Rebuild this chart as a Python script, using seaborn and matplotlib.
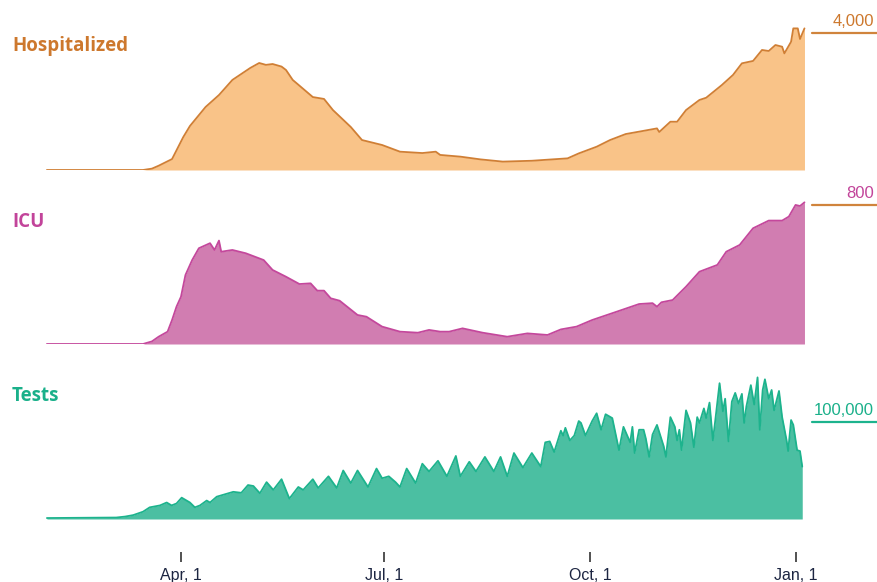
import matplotlib
matplotlib.use("Agg")
import matplotlib.pyplot as plt
import seaborn as sns
import pandas as pd

# days counted from 2020-02-01
hosp_day = [0, 43, 47, 50, 56, 61, 64, 71, 77, 83, 91, 95, 98, 101, 105, 107, 110, 119, 124, 128, 136, 141,
            150, 158, 168, 174, 176, 185, 194, 204, 217, 233, 238, 246, 252, 259, 265, 273, 274, 279, 282,
            286, 292, 295, 302, 307, 311, 316, 320, 323, 326, 329, 330, 333, 334, 336, 337, 339]
hosp_val = [0, 0, 40, 125, 320, 960, 1285, 1840, 2190, 2630, 2980, 3125, 3070, 3095, 3020, 2920, 2630, 2130,
            2075, 1750, 1255, 875, 730, 535, 495, 535, 440, 390, 310, 245, 270, 340, 485, 680, 875, 1050,
            1120, 1215, 1110, 1410, 1410, 1750, 2045, 2110, 2480, 2775, 3115, 3185, 3505, 3475, 3650, 3600,
            3405, 3745, 4135, 4135, 3825, 4135]

icu_day = [0, 43, 47, 50, 54, 56, 58, 60, 62, 65, 68, 73, 75, 77, 78, 83, 89, 97, 101, 107, 113, 118, 121,
           124, 127, 131, 139, 143, 150, 158, 166, 171, 176, 180, 186, 195, 206, 215, 224, 230, 237, 244,
           255, 265, 271, 273, 275, 280, 286, 292, 300, 304, 310, 316, 323, 329, 332, 335, 337, 339]
icu_val = [0, 0, 15, 42, 71, 138, 215, 272, 397, 483, 551, 580, 541, 595, 531, 541, 522, 483, 426, 387, 345,
           349, 307, 307, 263, 249, 167, 157, 100, 71, 65, 81, 71, 71, 90, 65, 42, 61, 52, 84, 100, 138,
           186, 230, 235, 215, 240, 253, 330, 416, 455, 531, 570, 666, 710, 710, 733, 800, 794, 815]

tests_day = [0, 31, 35, 38.6, 43, 46, 50.6, 53.6, 55.8, 58, 60.3, 64, 66.2, 68.5, 71.5, 73, 76, 79, 83.4,
             87, 90, 92.4, 95.3, 98.3, 101.3, 105, 108.5, 112.5, 114.7, 119, 121.4, 126, 129.7, 132.6,
             136, 139, 143.7, 147.5, 150, 153, 156, 158, 161, 165, 168, 171, 175, 179, 183, 185, 189, 192,
             196, 200, 203, 206, 209, 213, 217, 221, 223, 225, 227, 230, 231, 232, 234, 236, 238, 239, 241,
             244, 246, 248, 250, 253, 256, 258, 261, 262, 263, 265, 267, 268, 269.5, 271, 273, 276, 277,
             279, 281, 282, 283, 284, 286, 288, 289.5, 291, 292, 294, 295, 296.5, 298, 299, 301, 302.5,
             303.5, 305, 306.5, 308, 309.5, 311, 312, 313, 315, 316.5, 318, 319, 320.3, 321.3, 323, 324.3,
             325.4, 327.6, 329, 331, 331.7, 333, 334, 335.7, 337, 338]
tests_k = [1, 1.5, 2.5, 4, 7.5, 12, 14, 17, 14, 16, 22, 17, 12, 14, 19, 17, 23, 25, 28,
           27, 35, 34, 26.5, 38, 30, 41, 21, 33, 30, 41, 32, 44, 32, 50,
           37, 50, 33, 52, 42, 44, 38, 33, 52, 37, 57, 49, 60, 44, 65, 44, 59, 49,
           64, 49, 64, 44, 68, 53, 68, 54, 79, 80, 69, 91, 86, 94, 81, 86, 101, 99, 86,
           101, 109, 92, 108, 104, 71, 95, 79, 95, 68, 92, 92, 83, 64, 87, 97, 75, 64,
           105, 95, 81, 92, 71, 112, 99, 74, 105, 99, 114, 104, 120, 81, 100, 140, 111,
           124, 80, 121, 130, 119, 129, 99, 116, 138, 118, 146, 92, 133, 144, 124, 133,
           112, 132, 105, 81, 70, 102, 97, 71, 70, 54]

tick_dates = ['2020-04-01', '2020-07-01', '2020-10-01', '2021-01-01']
tick_labels = ['Apr, 1', 'Jul, 1', 'Oct, 1', 'Jan, 1']

start = pd.Timestamp('2020-02-01')


def to_dates(days):
    return start + pd.to_timedelta(pd.Series(days, dtype=float), unit='D')


sns.set_style('white')
plt.rcParams['font.family'] = ['Liberation Sans', 'DejaVu Sans']

W, H = 878, 582
fig = plt.figure(figsize=(W / 100, H / 100), dpi=100)

x_left = start - pd.Timedelta(days=1.3)
x_right = start + pd.Timedelta(days=371.9)

# name, days, values, ylim top, px bottom, px top, ref value, ref text, colours
panels = [
    ('Hospitalized', hosp_day, hosp_val, 4672, 170, 10, 4000, '4,000',
     '#f9c388', '#d07f35', '#cd782d', '#d0843c', 46),
    ('ICU', icu_day, icu_val, 886, 344, 190, 800, '800',
     '#d17db1', '#c4489c', '#c2449a', '#d0843c', 222),
    ('Tests', tests_day, tests_k, 153.6, 519, 370, 100, '100,000',
     '#4bbfa2', '#1db38d', '#1ab08a', '#1db38d', 396),
]

axes = []
for name, days, vals, ytop, pb, pt, ref, ref_txt, fill_c, line_c, lab_c, ref_c, lab_y in panels:
    ax = fig.add_axes([44 / W, 1 - pb / H, (W - 44) / W, (pb - pt) / H])
    d = pd.DataFrame({'date': to_dates(days), 'val': vals})
    ax.fill_between(d['date'], 0, d['val'], color=fill_c, lw=0)
    sns.lineplot(data=d, x='date', y='val', ax=ax, color=line_c, lw=1.3)
    ax.set_xlim(x_left, x_right)
    ax.set_ylim(0, ytop)
    ax.set_xlabel('')
    ax.set_ylabel('')
    ax.set_yticks([])
    for s in ax.spines.values():
        s.set_visible(False)
    # reference value mark in the right margin
    ax.plot([(812 - 44) / (W - 44), 1.0], [ref, ref], color=ref_c, lw=1.6,
            transform=ax.get_yaxis_transform(), clip_on=False)
    ax.annotate(ref_txt, xy=(0.995, ref), xycoords=ax.get_yaxis_transform(),
                xytext=(0, 3), textcoords='offset points', ha='right', va='bottom',
                color=lab_c, fontsize=12)
    fig.text(12 / W, 1 - lab_y / H, name, color=lab_c, fontsize=13.5, fontweight='bold',
             family=['Open Sans', 'DejaVu Sans'], va='center', ha='left')
    axes.append(ax)

for ax in axes[:2]:
    ax.set_xticks([])

ax = axes[2]
ax.spines['bottom'].set_position(('outward', 24))
ax.set_xticks(pd.to_datetime(tick_dates))
ax.set_xticklabels(tick_labels, color='#1c2541', fontsize=11.5)
ax.tick_params(axis='x', direction='out', length=7.2, width=1.1, color='#222222', pad=4,
               bottom=True)

fig.savefig('out.png', dpi=100)
